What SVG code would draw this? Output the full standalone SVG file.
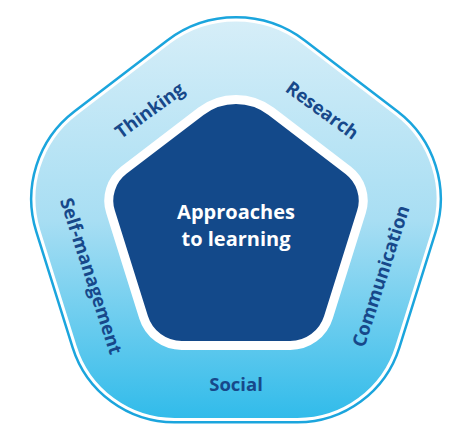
<svg xmlns="http://www.w3.org/2000/svg" xmlns:xlink="http://www.w3.org/1999/xlink" width="472" height="436" viewBox="0 0 472 436">
  <defs>
    <linearGradient id="band" gradientUnits="userSpaceOnUse" x1="0" y1="20" x2="0" y2="420">
      <stop offset="0" stop-color="#d6eef8"/>
      <stop offset="0.5" stop-color="#a8def3"/>
      <stop offset="1" stop-color="#30bbea"/>
    </linearGradient>
    <path id="ring" d="M 168.55,42.9 A 111 111 0 0 1 303.45,42.9 L 396,113.7 A 107 107 0 0 1 433.1,230.7 L 396.8,346.5 A 104 104 0 0 1 297.4,419.5 L 174.6,419.5 A 104 104 0 0 1 75.2,346.5 L 38.9,230.7 A 107 107 0 0 1 76,113.7 Z"/>
    <path id="core-shape" d="M 200.8,111.4 A 58 58 0 0 1 271.2,111.4 L 348.3,170.3 A 38 38 0 0 1 361.45,211.9 L 328.4,317.4 A 40 40 0 0 1 290.2,345.5 L 181.8,345.5 A 40 40 0 0 1 143.6,317.4 L 110.55,211.9 A 38 38 0 0 1 123.7,170.3 Z"/>
  </defs>
  <style>
    .lbl { font-family: "Open Sans", "Noto Sans", "Liberation Sans", sans-serif; font-weight: 700; font-size: 18.5px; fill: #17488a; text-anchor: middle; }
    .ctr { font-family: "Open Sans", "Noto Sans", "Liberation Sans", sans-serif; font-weight: 700; font-size: 20px; fill: #ffffff; text-anchor: middle; }
  </style>
  <g id="outer-ring">
    <use xlink:href="#ring" href="#ring" fill="none" stroke="#1ba5dd" stroke-width="8"/>
    <use xlink:href="#ring" href="#ring" fill="url(#band)" stroke="#ffffff" stroke-width="3"/>
  </g>
  <g id="core">
    <use xlink:href="#core-shape" href="#core-shape" fill="#13498a" stroke="#ffffff" stroke-width="9"/>
    <text class="ctr" x="236" y="219">Approaches</text>
    <text class="ctr" x="236" y="246">to learning</text>
  </g>
  <g id="thinking">
    <text class="lbl" transform="translate(153.5,115.5) rotate(-36)">Thinking</text>
  </g>
  <g id="research">
    <text class="lbl" transform="translate(318.5,115.5) rotate(36)">Research</text>
  </g>
  <g id="self-management">
    <text class="lbl" transform="translate(85,278) rotate(72)">Self-management</text>
  </g>
  <g id="communication">
    <text class="lbl" transform="translate(387,278) rotate(-72)">Communication</text>
  </g>
  <g id="social">
    <text class="lbl" x="236" y="391">Social</text>
  </g>
  <g id="connectors"/>
</svg>
